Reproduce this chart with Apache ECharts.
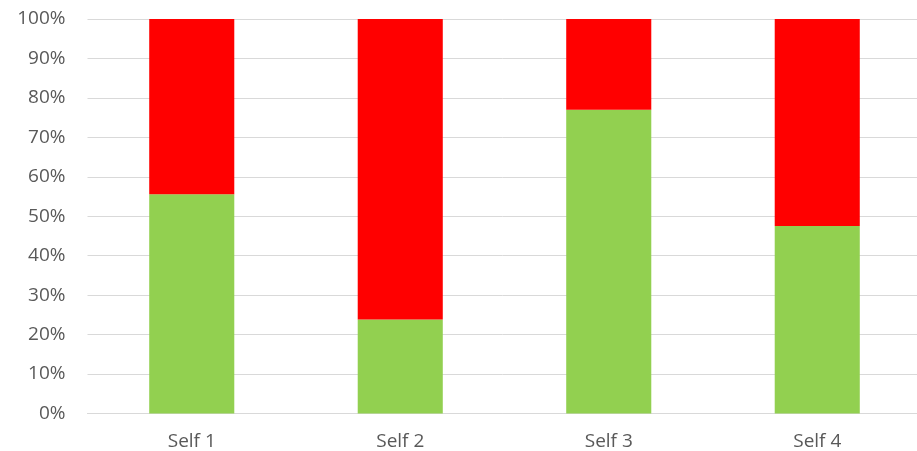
<!DOCTYPE html>
<html><head><meta charset="utf-8">
<script src="https://cdn.jsdelivr.net/npm/echarts@6/dist/echarts.min.js"></script>
<style>html,body{margin:0;padding:0;background:#fff}#c{width:917px;height:451px}</style>
</head><body><div id="c"></div>
<script>
const categories = ['Self 1', 'Self 2', 'Self 3', 'Self 4'];
const greenValues = [55.6, 23.8, 77.0, 47.5];
const redValues = [44.4, 76.2, 23.0, 52.5];
const chart = echarts.init(document.getElementById('c'), null, {renderer: 'canvas'});
const font = 'Open Sans';
chart.setOption({
  animation: false,
  grid: {left: 87.5, width: 834, top: 19, bottom: 37.5, containLabel: false, outerBoundsMode: 'none'},
  xAxis: {
    type: 'category', data: categories,
    axisLine: {lineStyle: {color: '#D9D9D9', width: 1}},
    axisTick: {show: false},
    axisLabel: {color: '#595959', fontFamily: font, fontSize: 19, margin: 19}
  },
  yAxis: {
    type: 'value', min: 0, max: 100, interval: 10,
    axisLine: {show: false}, axisTick: {show: false},
    splitLine: {lineStyle: {color: '#D9D9D9', width: 1}},
    axisLabel: {color: '#595959', fontFamily: font, fontSize: 19, margin: 22,
      formatter: v => v + '%'}
  },
  series: [
    {type: 'bar', stack: 's', data: greenValues, barWidth: '40.8%',
     itemStyle: {color: '#92D050'}},
    {type: 'bar', stack: 's', data: redValues, barWidth: '40.8%',
     itemStyle: {color: '#FF0000'}}
  ]
});
</script></body></html>
